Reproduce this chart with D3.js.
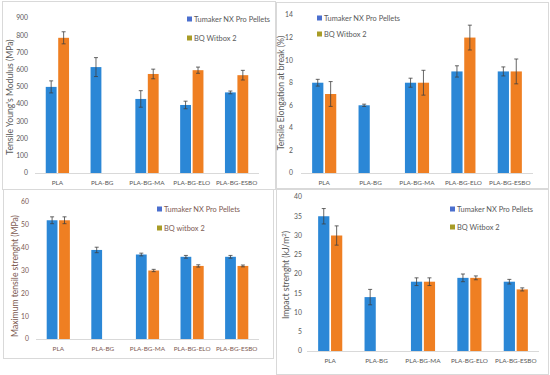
<!DOCTYPE html>
<html>
<head>
<meta charset="utf-8">
<script src="https://cdn.jsdelivr.net/npm/d3@7"></script>
<style>
    body { margin: 0; background: #fff; }
    svg { display: block; font-family: Lato, "Open Sans", sans-serif; }
</style>
</head>
<body>
<svg id="chart" width="550" height="375"></svg>
<script>
    'use strict';

    var categories = ['PLA', 'PLA-BG', 'PLA-BG-MA', 'PLA-BG-ELO', 'PLA-BG-ESBO'];
    var seriesNames = ['Tumaker NX Pro Pellets', 'BQ Witbox 2'];

    // Tensile Young's modulus (MPa)
    var modulusTumaker = [500, 615, 430, 395, 468];
    var modulusTumakerErr = [35, 55, 48, 22, 8];
    var modulusBQ = [785, null, 575, 597, 568];
    var modulusBQErr = [35, null, 28, 18, 28];
    var modulusTicks = [0, 100, 200, 300, 400, 500, 600, 700, 800, 900];

    // Tensile elongation at break (%)
    var elongTumaker = [8, 6, 8, 9, 9];
    var elongTumakerErr = [0.3, 0.1, 0.4, 0.5, 0.4];
    var elongBQ = [7, null, 8, 12, 9];
    var elongBQErr = [1.1, null, 1.1, 1.1, 1.1];
    var elongTicks = [0, 2, 4, 6, 8, 10, 12, 14];

    // Maximum tensile strength (MPa)
    var strengthTumaker = [52, 39, 37, 36, 36];
    var strengthTumakerErr = [1.5, 1.2, 0.6, 0.6, 0.6];
    var strengthBQ = [52, null, 30, 32, 32];
    var strengthBQErr = [1.5, null, 0.5, 0.5, 0.4];
    var strengthTicks = [0, 10, 20, 30, 40, 50, 60];

    // Impact strength (kJ/m2)
    var impactTumaker = [35, 14, 18, 19, 18];
    var impactTumakerErr = [2, 2, 1, 1, 0.6];
    var impactBQ = [30, null, 18, 19, 16];
    var impactBQErr = [2.5, null, 1, 0.5, 0.4];
    var impactTicks = [0, 5, 10, 15, 20, 25, 30, 35, 40];

    var barColors = ['#2b87d6', '#ef7f22'];
    var legendColors = ['#4b6fce', '#a89c26'];

    var svg = d3.select('#chart');

    // panel frames
    var frames = [[2, 1, 273, 188], [276, 2, 272, 186], [3, 189, 270, 169], [276, 189, 272, 185]];
    svg.selectAll('rect.frame')
        .data(frames)
        .enter().append('rect')
        .attr('class', 'frame')
        .attr('x', function (d) { return d[0] + 0.5; })
        .attr('y', function (d) { return d[1] + 0.5; })
        .attr('width', function (d) { return d[2]; })
        .attr('height', function (d) { return d[3]; })
        .style('fill', 'none')
        .style('stroke', '#d9d9d9');

    drawPanel({
        values: [modulusTumaker, modulusBQ],
        errors: [modulusTumakerErr, modulusBQErr],
        ticks: modulusTicks,
        xRange: [35, 259], yRange: [173, 18],
        labelY: 185, tickX: 28,
        title: "Tensile Young's Modulus (MPa)", titleX: 10, titleY: 97,
        legendNames: seriesNames, legendX: 187, legendY: [19, 38],
        textColor: '#595959'
    });

    drawPanel({
        values: [elongTumaker, elongBQ],
        errors: [elongTumakerErr, elongBQErr],
        ticks: elongTicks,
        xRange: [301, 533], yRange: [173, 15],
        labelY: 185, tickX: 293,
        title: 'Tensile Elongation at break (%)', titleX: 281, titleY: 93,
        legendNames: seriesNames, legendX: 317, legendY: [18, 34],
        textColor: '#595959'
    });

    drawPanel({
        values: [strengthTumaker, strengthBQ],
        errors: [strengthTumakerErr, strengthBQErr],
        ticks: strengthTicks,
        xRange: [36, 259], yRange: [339, 202],
        labelY: 351, tickX: 29,
        title: 'Maximum tensile strenght (MPa)', titleX: 15, titleY: 276,
        legendNames: ['Tumaker NX Pro Pellets', 'BQ witbox 2'], legendX: 157, legendY: [209, 228],
        textColor: '#7d5a52'
    });

    drawPanel({
        values: [impactTumaker, impactBQ],
        errors: [impactTumakerErr, impactBQErr],
        ticks: impactTicks,
        xRange: [307, 539], yRange: [351, 197],
        labelY: 363, tickX: 302,
        title: null, titleX: 286, titleY: 275,
        legendNames: seriesNames, legendX: 450, legendY: [209, 227],
        textColor: '#595959'
    });

    function drawPanel(cfg) {
        var g = svg.append('g');

        var x0 = d3.scaleBand().domain(categories).range(cfg.xRange);
        var bw = x0.bandwidth();
        var x1 = d3.scaleBand().domain([0, 1]).range([bw * 0.24, bw * 0.76]).paddingInner(0.13);
        var y = d3.scaleLinear()
            .domain([0, d3.max(cfg.ticks)])
            .range(cfg.yRange);

        // tick labels
        g.selectAll('text.tick')
            .data(cfg.ticks)
            .enter().append('text')
            .attr('x', cfg.tickX)
            .attr('y', function (d) { return y(d); })
            .attr('dy', '0.35em')
            .attr('text-anchor', 'end')
            .style('font-size', '6.8px')
            .style('fill', cfg.textColor)
            .text(function (d) { return d; });

        // baseline
        g.append('line')
            .attr('x1', cfg.xRange[0]).attr('x2', cfg.xRange[1])
            .attr('y1', y(0) + 0.5).attr('y2', y(0) + 0.5)
            .style('stroke', '#d9d9d9');

        // category labels
        g.selectAll('text.cat')
            .data(categories)
            .enter().append('text')
            .attr('x', function (d) { return x0(d) + bw / 2; })
            .attr('y', cfg.labelY)
            .attr('text-anchor', 'middle')
            .style('font-size', '6.4px')
            .style('fill', cfg.textColor)
            .text(function (d) { return d; });

        // bars + error bars
        cfg.values.forEach(function (vals, s) {
            var items = categories.map(function (c, i) {
                return { cat: c, v: vals[i], e: cfg.errors[s][i] };
            }).filter(function (d) { return d.v !== null; });

            g.selectAll('rect.s' + s)
                .data(items)
                .enter().append('rect')
                .attr('x', function (d) { return x0(d.cat) + x1(s); })
                .attr('y', function (d) { return y(d.v); })
                .attr('width', x1.bandwidth())
                .attr('height', function (d) { return y(0) - y(d.v); })
                .style('fill', barColors[s]);

            var eb = g.selectAll('g.e' + s)
                .data(items)
                .enter().append('g')
                .attr('transform', function (d) {
                    return 'translate(' + (x0(d.cat) + x1(s) + x1.bandwidth() / 2) + ',0)';
                })
                .style('stroke', '#404040')
                .style('stroke-width', 0.8);
            eb.append('line')
                .attr('y1', function (d) { return y(d.v + d.e); })
                .attr('y2', function (d) { return y(d.v - d.e); });
            eb.append('line')
                .attr('x1', -2).attr('x2', 2)
                .attr('y1', function (d) { return y(d.v + d.e); })
                .attr('y2', function (d) { return y(d.v + d.e); });
            eb.append('line')
                .attr('x1', -2).attr('x2', 2)
                .attr('y1', function (d) { return y(d.v - d.e); })
                .attr('y2', function (d) { return y(d.v - d.e); });
        });

        // axis title
        var title = g.append('text')
            .attr('transform', 'translate(' + cfg.titleX + ',' + cfg.titleY + ') rotate(-90)')
            .attr('text-anchor', 'middle')
            .attr('dy', '0.35em')
            .style('font-size', '8.6px')
            .style('fill', cfg.textColor);
        if (cfg.title) {
            title.text(cfg.title);
        } else {
            title.append('tspan').text('Impact strenght (kJ/m');
            title.append('tspan').attr('baseline-shift', 'super').style('font-size', '6px').text('2');
            title.append('tspan').text(')');
        }

        // legend
        var leg = g.selectAll('g.leg')
            .data(cfg.legendNames)
            .enter().append('g')
            .attr('transform', function (d, i) {
                return 'translate(' + cfg.legendX + ',' + cfg.legendY[i] + ')';
            });
        leg.append('rect')
            .attr('x', 0).attr('y', -2.5)
            .attr('width', 5).attr('height', 5)
            .style('fill', function (d, i) { return legendColors[i]; });
        leg.append('text')
            .attr('x', 7)
            .attr('dy', '0.35em')
            .style('font-size', '7.4px')
            .style('fill', cfg.textColor)
            .text(function (d) { return d; });
    }
</script>
</body>
</html>
